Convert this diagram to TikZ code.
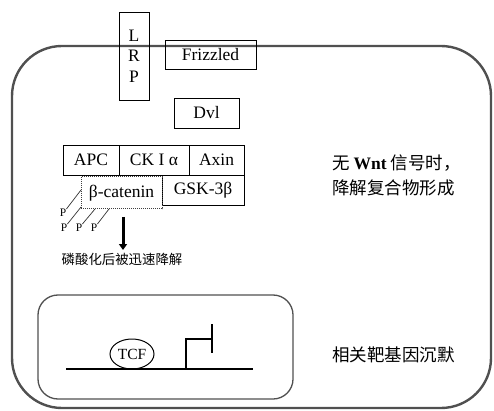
\documentclass[tikz,border=0pt]{standalone}
\usepackage{fontspec}
\setmainfont{Liberation Serif}
\newfontfamily\cjk{Noto Sans CJK SC}
\usetikzlibrary{arrows.meta,calc,shapes.geometric}
\definecolor{outl}{HTML}{505050}
\begin{document}
\begin{tikzpicture}[x=1pt,y=-1pt,
  cell/.style={draw=outl,line width=2.4pt,rounded corners=50pt},
  inner/.style={draw=outl,line width=1.3pt,rounded corners=20pt},
  box/.style={draw,line width=0.9pt,inner sep=0pt,font=\fontsize{17.5}{19}\selectfont},
  dotbox/.style={draw=black!75,line width=1pt,dash pattern=on 1pt off 1pt,inner sep=0pt,font=\fontsize{17.5}{19}\selectfont},
  plabel/.style={inner sep=0pt,font=\fontsize{11.5}{12}\selectfont},
  pline/.style={line width=0.7pt,draw=black!80},
  cjkbig/.style={inner sep=0pt,anchor=west,font=\fontsize{17.5}{20}\selectfont\cjk},
  cjksmall/.style={inner sep=0pt,font=\fontsize{13.4}{15}\selectfont\cjk},
  dna/.style={line width=1.3pt}
]
\useasboundingbox (0,0) rectangle (494,411);
% cell outline
\draw[cell] (12,46) rectangle (491,408);
% membrane receptors
\node[box,minimum width=30pt,minimum height=88pt,align=center,font=\fontsize{17.5}{20.5}\selectfont] (lrp) at (134,56) {L\\R\\P};
\node[box,minimum width=91pt,minimum height=29pt] (fz) at (210.5,54.5) {Frizzled};
\node[box,minimum width=65pt,minimum height=30pt] (dvl) at (206.5,113) {Dvl};
% destruction complex
\node[box,minimum width=56pt,minimum height=30pt] (apc) at (91,160) {APC};
\node[box,minimum width=70pt,minimum height=30pt] (ck) at (154,160) {CK I α};
\node[box,minimum width=55pt,minimum height=30pt] (axin) at (216.5,160) {Axin};
\node[box,minimum width=82pt,minimum height=30pt] (gsk) at (203,190) {GSK-3β};
\node[dotbox,minimum width=81pt,minimum height=32pt] (bcat) at (121.5,193) {β-catenin};
% phosphates
\node[plabel] (p1) at (63,213) {P};
\node[plabel] (p2) at (64,228) {P};
\node[plabel] (p3) at (79,228) {P};
\node[plabel] (p4) at (94,228) {P};
\coordinate (b1) at (81,190);
\coordinate (b2) at (81,207);
\coordinate (b3) at (95,209);
\coordinate (b4) at (109,209);
\draw[pline] (b1) -- (p1.north east);
\draw[pline] (b2) -- (p2.north east);
\draw[pline] (b3) -- (p3.north east);
\draw[pline] (b4) -- (p4.north east);
% degradation
\node[cjksmall] (deg) at (122,259) {磷酸化后被迅速降解};
\coordinate (arrtop) at (123,217);
\draw[line width=3pt,-{Triangle[length=6pt,width=8pt]}] (arrtop) -- (123,250);
% right labels
\node[cjkbig] (lab1) at (332,163) {无 {\rmfamily\bfseries Wnt} 信号时，};
\node[cjkbig] (lab2) at (332,188) {降解复合物形成};
% nucleus
\draw[inner] (38,295) rectangle (293,399);
\coordinate (dnaL) at (66,369);
\coordinate (dnaR) at (253,369);
\draw[dna] (dnaL) -- (dnaR);
\node[ellipse,draw,line width=1pt,minimum width=44pt,minimum height=30pt,inner sep=0pt,font=\fontsize{15.5}{16}\selectfont] (tcf) at (132,354) {TCF};
\coordinate (prom) at (186,369);
\coordinate (promtop) at (212,339);
\coordinate (barT) at (212,324);
\coordinate (barB) at (212,353);
\draw[dna] (prom) |- (promtop);
\draw[dna] (barT) -- (barB);
\node[cjkbig] (lab3) at (332,355) {相关靶基因沉默};
\end{tikzpicture}
\end{document}
